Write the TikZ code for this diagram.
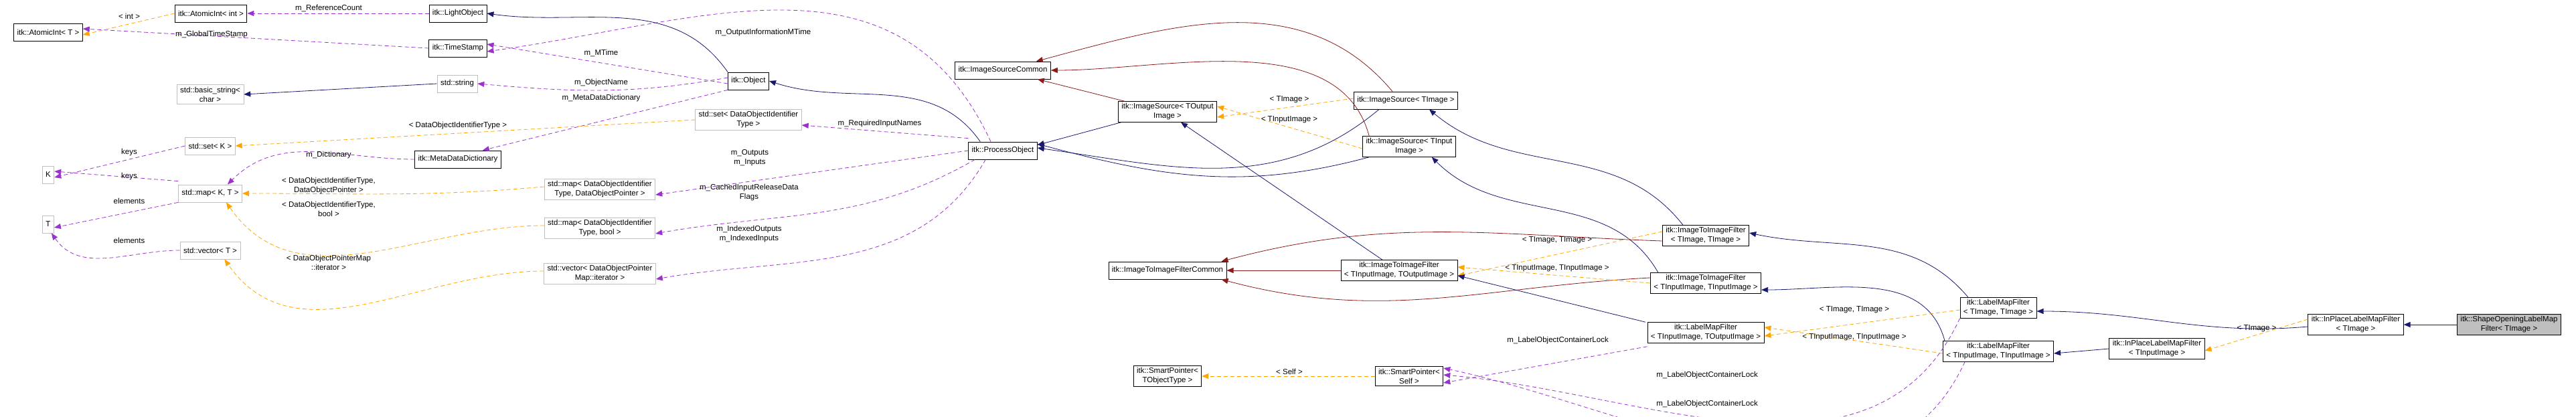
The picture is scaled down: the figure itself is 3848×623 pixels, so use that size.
\documentclass[tikz,border=0pt]{standalone}
\usepackage{fontspec}
\setmainfont{Liberation Sans}
\usetikzlibrary{arrows.meta}

\definecolor{inhblue}{HTML}{191970}
\definecolor{usepurple}{HTML}{9A32CD}
\definecolor{tplorange}{HTML}{FFA500}
\definecolor{commred}{HTML}{8B1A1A}
\definecolor{extgray}{HTML}{BFBFBF}

\tikzset{
  cls/.style={draw=black, thick, fill=white, align=center, inner xsep=5pt, inner ysep=3pt,
    minimum height=26pt, font=\fontsize{11.5}{14}\selectfont},
  ext/.style={cls, draw=extgray},
  cur/.style={cls, fill=extgray},
  tip/.style={-{Triangle[length=10pt,width=8pt]}},
  inh/.style={tip, draw=inhblue, thick},
  inhr/.style={tip, draw=commred, thick},
  use/.style={tip, draw=usepurple, thick, dash pattern=on 6pt off 4pt},
  tpl/.style={tip, draw=tplorange, thick, dash pattern=on 6pt off 4pt},
  lbl/.style={align=center, font=\fontsize{11.5}{14}\selectfont}
}

\begin{document}
\begin{tikzpicture}[x=1pt, y=-1pt]
	\useasboundingbox (0,0) rectangle (3848,623);

	% Nodes, left part
	\node [cls] (aint)  at (72,48)   {itk::AtomicInt< T >};
	\node [cls] (aintI) at (315,20)  {itk::AtomicInt< int >};
	\node [cls] (light) at (684,20)  {itk::LightObject};
	\node [cls] (stamp) at (684,72)  {itk::TimeStamp};
	\node [ext] (str)   at (683,125) {std::string};
	\node [ext] (bstr)  at (314,141) {std::basic\_string<\\char >};
	\node [ext] (setK)  at (314,218) {std::set< K >};
	\node [ext] (K)     at (72,261)  {K};
	\node [cls] (mdd)   at (684,238) {itk::MetaDataDictionary};
	\node [ext] (mapKT) at (314,289) {std::map< K, T >};
	\node [ext] (T)     at (72,335)  {T};
	\node [ext] (vecT)  at (314,374) {std::vector< T >};
	\node [ext] (mapP)  at (896,283) {std::map< DataObjectIdentifier\\Type, DataObjectPointer >};
	\node [ext] (mapB)  at (896,341) {std::map< DataObjectIdentifier\\Type, bool >};
	\node [ext] (vecP)  at (896,409) {std::vector< DataObjectPointer\\Map::iterator >};
	\node [cls] (obj)   at (1118,121) {itk::Object};
	\node [ext] (setD)  at (1118,179) {std::set< DataObjectIdentifier\\Type >};
	\node [cls] (proc)  at (1498,225) {itk::ProcessObject};

	% Nodes, sources and filters
	\node [cls] (isc)   at (1498,105) {itk::ImageSourceCommon};
	\node [cls] (isO)   at (1744,167) {itk::ImageSource< TOutput\\Image >};
	\node [cls] (isT)   at (2100,150) {itk::ImageSource< TImage >};
	\node [cls] (isI)   at (2105,219) {itk::ImageSource< TInput\\Image >};
	\node [cls] (itic)  at (1744,404) {itk::ImageToImageFilterCommon};
	\node [cls] (itIO)  at (2090,404) {itk::ImageToImageFilter\\< TInputImage, TOutputImage >};
	\node [cls] (spT)   at (1744,562) {itk::SmartPointer<\\TObjectType >};
	\node [cls] (spS)   at (2105,562) {itk::SmartPointer<\\Self >};
	\node [cls] (itTT)  at (2548,352) {itk::ImageToImageFilter\\< TImage, TImage >};
	\node [cls] (itII)  at (2548,423) {itk::ImageToImageFilter\\< TInputImage, TInputImage >};
	\node [cls] (lmIO)  at (2548,497) {itk::LabelMapFilter\\< TInputImage, TOutputImage >};
	\node [cls] (lmTT)  at (2985,460) {itk::LabelMapFilter\\< TImage, TImage >};
	\node [cls] (lmII)  at (2985,525) {itk::LabelMapFilter\\< TInputImage, TInputImage >};
	\node [cls] (ipI)   at (3222,521) {itk::InPlaceLabelMapFilter\\< TInputImage >};
	\node [cls] (ipT)   at (3519,485) {itk::InPlaceLabelMapFilter\\< TImage >};
	\node [cur] (shape) at (3748,485) {itk::ShapeOpeningLabelMap\\Filter< TImage >};

	% Paths, left part
	\draw [tpl] (aintI.west) -- ([yshift=-4]aint.east);
	\draw [use] (light.west) -- (aintI.east);
	\draw [use] (stamp.west) -- ([yshift=5]aint.east);
	\draw [inh] (obj.north west) to[out=125,in=-8] (light.east);
	\draw [use] ([yshift=-4]obj.west) -- ([yshift=6]stamp.east);
	\draw [use] ([xshift=-18]proc.north) to[out=115,in=8,looseness=1.1] ([yshift=-5]stamp.east);
	\draw [inh] (str.west) -- (bstr.east);
	\draw [use] ([yshift=5]obj.west) to[out=190,in=-5] (str.east);
	\draw [use] (obj.south west) -- ([xshift=-28]mdd.north east);
	\draw [tpl] (setD.west) -- (setK.east);
	\draw [use] (setK.west) -- ([yshift=-4]K.east);
	\draw [use] ([yshift=5]mapKT.north west) -- ([yshift=5]K.east);
	\draw [use] (mapKT.south west) -- ([yshift=-5]T.east);
	\draw [use] (vecT.west) to[out=180,in=-55] ([xshift=-4]T.south east);
	\draw [use] (mdd.west) to[out=180,in=45] ([xshift=-22]mapKT.north east);
	\draw [tpl] ([yshift=4]mapP.west) to[out=185,in=0] (mapKT.east);
	\draw [tpl] ([yshift=4]mapB.west) to[out=180,in=-55] ([xshift=-24]mapKT.south east);
	\draw [tpl] ([yshift=4]vecP.west) to[out=180,in=-55] ([xshift=-24]vecT.south east);
	\draw [inh] ([xshift=18]proc.north west) to[out=125,in=-18] (obj.east);
	\draw [use] ([yshift=5]proc.north west) -- ([yshift=-8]setD.east);
	\draw [use] (proc.west) -- ([yshift=-8]mapP.east);
	\draw [use] ([xshift=10]proc.south west) to[out=-150,in=10] ([yshift=-8]mapB.east);
	\draw [use] ([xshift=26]proc.south west) to[out=-120,in=10] ([yshift=-8]vecP.east);

	% Paths, sources
	\draw [inhr] ([xshift=10]isO.north west) -- ([xshift=-20]isc.south east);
	\draw [inh] ([xshift=5]isO.south west) -- ([yshift=-5]proc.north east);
	\draw [inhr] ([xshift=-20]isT.north) to[out=130,in=15] ([xshift=-22]isc.north east);
	\draw [inhr] ([xshift=10]isI.north west) to[out=105,in=0,looseness=0.9] (isc.east);
	\draw [tpl] ([yshift=3]isT.west) -- ([yshift=-8]isO.east);
	\draw [tpl] ([yshift=-3]isI.west) -- ([yshift=8]isO.east);
	\draw [inh] ([xshift=-40]isT.south) to[out=-140,in=-8] ([yshift=4]proc.east);
	\draw [inh] ([xshift=10]isI.south west) to[out=-165,in=-15] ([yshift=10]proc.east);
	\draw [inh] ([xshift=-25]itIO.north) -- ([xshift=20]isO.south);

	% Paths, filters
	\draw [inhr] (itIO.west) -- (itic.east);
	\draw [inhr] ([yshift=-8]itTT.west) to[out=178,in=15] ([xshift=-8]itic.north east);
	\draw [inhr] ([yshift=8]itII.west) to[out=183,in=-15] ([xshift=-8]itic.south east);
	\draw [inh] ([xshift=-34]itTT.north) to[out=128,in=-40] ([xshift=-43]isT.south east);
	\draw [inh] ([xshift=12]itII.north west) to[out=120,in=-45] ([xshift=-36]isI.south east);
	\draw [tpl] ([yshift=6]itTT.west) -- ([yshift=-8]itIO.east);
	\draw [tpl] (itII.west) -- ([yshift=5]itIO.east);
	\draw [inh] ([xshift=-90]lmIO.north) -- ([yshift=8]itIO.south east);
	\draw [inh] ([xshift=-45]lmTT.north) to[out=130,in=-12] ([yshift=4]itTT.east);
	\draw [inh] ([xshift=-80]lmII.north) to[out=105,in=0] ([yshift=-10]itII.east);
	\draw [tpl] ([yshift=-3]lmTT.west) -- ([yshift=-5]lmIO.east);
	\draw [tpl] ([yshift=-3]lmII.west) -- ([yshift=8]lmIO.east);
	\draw [tpl] (spS.west) -- (spT.east);
	\draw [use] ([yshift=-5]lmIO.south west) -- ([yshift=-10]spS.east);
	\draw [use] (lmTT.south west) to[out=-115,in=-5] ([yshift=2]spS.east);
	\draw [use] ([xshift=-50]lmII.south) to[out=-115,in=-12] ([yshift=12]spS.east);
	\draw [inh] ([yshift=-3]ipT.west) to[out=185,in=0] ([yshift=-5]lmTT.east);
	\draw [inh] (ipI.west) -- ([yshift=-3]lmII.east);
	\draw [tpl] ([yshift=8]ipT.west) -- ([yshift=-3]ipI.east);
	\draw [inh] (shape.west) -- (ipT.east);

	% Labels
	\node [lbl] (l1)  at (193,24)   {< int >};
	\node [lbl] (l2)  at (491,12)   {m\_ReferenceCount};
	\node [lbl] (l3)  at (316,52)   {m\_GlobalTimeStamp};
	\node [lbl] (l4)  at (898,79)   {m\_MTime};
	\node [lbl] (l5)  at (1140,49)  {m\_OutputInformationMTime};
	\node [lbl] (l6)  at (898,124)  {m\_ObjectName};
	\node [lbl] (l7)  at (898,147)  {m\_MetaDataDictionary};
	\node [lbl] (l8)  at (684,188)  {< DataObjectIdentifierType >};
	\node [lbl] (l9)  at (193,228)  {keys};
	\node [lbl] (l10) at (193,264)  {keys};
	\node [lbl] (l11) at (193,300)  {elements};
	\node [lbl] (l12) at (193,359)  {elements};
	\node [lbl] (l13) at (491,232)  {m\_Dictionary};
	\node [lbl] (l14) at (491,278)  {< DataObjectIdentifierType,\\DataObjectPointer >};
	\node [lbl] (l15) at (491,312)  {< DataObjectIdentifierType,\\bool >};
	\node [lbl] (l16) at (491,392)  {< DataObjectPointerMap\\::iterator >};
	\node [lbl] (l17) at (1314,185) {m\_RequiredInputNames};
	\node [lbl] (l18) at (1120,236) {m\_Outputs\\m\_Inputs};
	\node [lbl] (l19) at (1119,288) {m\_CachedInputReleaseData\\Flags};
	\node [lbl] (l20) at (1119,350) {m\_IndexedOutputs\\m\_IndexedInputs};
	\node [lbl] (l21) at (1926,149) {< TImage >};
	\node [lbl] (l22) at (1926,179) {< TInputImage >};
	\node [lbl] (l23) at (2326,359) {< TImage, TImage >};
	\node [lbl] (l24) at (2326,401) {< TInputImage, TInputImage >};
	\node [lbl] (l25) at (2770,463) {< TImage, TImage >};
	\node [lbl] (l26) at (2770,504) {< TInputImage, TInputImage >};
	\node [lbl] (l27) at (1926,555) {< Self >};
	\node [lbl] (l28) at (2327,509) {m\_LabelObjectContainerLock};
	\node [lbl] (l29) at (2550,561) {m\_LabelObjectContainerLock};
	\node [lbl] (l30) at (2550,604) {m\_LabelObjectContainerLock};
	\node [lbl] (l31) at (3371,491) {< TImage >};
\end{tikzpicture}
\end{document}
